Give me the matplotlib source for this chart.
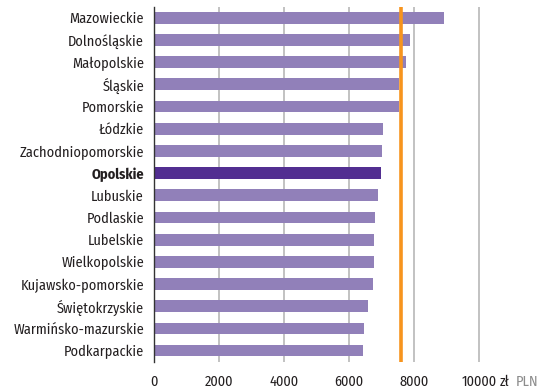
import matplotlib.pyplot as plt
from matplotlib import font_manager

# voivodeships, top to bottom
regions = ['Mazowieckie', 'Dolnośląskie', 'Małopolskie', 'Śląskie', 'Pomorskie',
           'Łódzkie', 'Zachodniopomorskie', 'Opolskie', 'Lubuskie', 'Podlaskie',
           'Lubelskie', 'Wielkopolskie', 'Kujawsko-pomorskie', 'Świętokrzyskie',
           'Warmińsko-mazurskie', 'Podkarpackie']
salary = [8940, 7865, 7770, 7530, 7530, 7055, 7025, 6990, 6905, 6810,
          6780, 6780, 6745, 6600, 6470, 6440]
national_avg = 7590
highlight = 'Opolskie'
x_ticks = [0, 2000, 4000, 6000, 8000, 10000]

BAR = '#9180b9'
BAR_HI = '#522e91'
ORANGE = '#f7941d'
TXT = '#231f20'

# condensed face if we have one
names = {f.name for f in font_manager.fontManager.ttflist}
narrow = [n for n in ('Fira Sans Condensed', 'Archivo Narrow', 'Liberation Sans Narrow')
          if n in names]
plt.rcParams['font.family'] = narrow[:1] + ['DejaVu Sans']
fs = 10.3 if narrow else 8.5

W, H = 540, 391
fig = plt.figure(figsize=(W / 100, H / 100), dpi=100)
ax = fig.add_axes([154 / W, 29.3 / H, (W - 154) / W, (361.7 - 6.7) / H])

ypos = list(range(len(regions)))
colors = [BAR_HI if r == highlight else BAR for r in regions]
ax.barh(ypos, salary, height=0.53, color=colors, zorder=2)
ax.axvline(national_avg, color=ORANGE, lw=2.6, zorder=3)

ax.set_xlim(0, 11880)
ax.set_ylim(len(regions) - 0.5, -0.5)
ax.set_xticks(x_ticks)
ax.set_xticklabels([str(t) for t in x_ticks])
ax.set_yticks(ypos)
ax.set_yticklabels(regions)
for lbl in ax.get_yticklabels():
    if lbl.get_text() == highlight:
        lbl.set_fontweight('bold')

ax.tick_params(axis='both', length=0, labelsize=fs, colors=TXT)
ax.tick_params(axis='y', pad=7.2)
ax.tick_params(axis='x', pad=9.5)
ax.grid(axis='x', color='#b8b8b8', lw=1.2, zorder=0)
ax.set_axisbelow(True)
for s in ['top', 'right', 'bottom']:
    ax.spines[s].set_visible(False)
ax.spines['left'].set_color('#333333')
ax.spines['left'].set_linewidth(1)

# currency unit after the last tick label
fig.text(500 / W, 1 - 382 / H, 'zł', fontsize=fs, color=TXT, ha='left', va='center')
fig.text(515.5 / W, 1 - 382 / H, 'PLN', fontsize=fs, color='#8c8c8c', ha='left', va='center')

fig.savefig('out.png', dpi=100)
